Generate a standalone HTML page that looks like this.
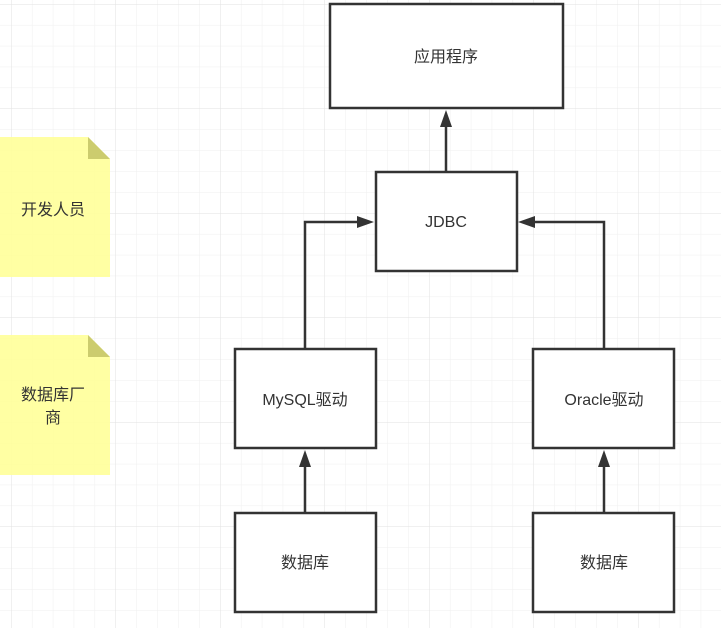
<!DOCTYPE html>
<html><head><meta charset="utf-8"><style>
body{margin:0;width:721px;height:628px;overflow:hidden;background:#fff;font-family:"Liberation Sans","Noto Sans CJK SC",sans-serif;}
</style></head><body>
<svg width="721" height="628" xmlns="http://www.w3.org/2000/svg" style="position:absolute;left:0;top:0">
<defs>
<pattern id="g" x="11" y="4" width="20.9" height="20.9" patternUnits="userSpaceOnUse">
<path d="M0 0H20.9M0 0V20.9" stroke="#efefef" stroke-width="1" fill="none"/>
</pattern>
<pattern id="G" x="11" y="4" width="104.5" height="104.5" patternUnits="userSpaceOnUse">
<path d="M0 0H104.5M0 0V104.5" stroke="#e2e2e2" stroke-width="1" fill="none"/>
</pattern>
</defs>
<rect width="721" height="628" fill="url(#g)"/>
<rect width="721" height="628" fill="url(#G)"/>
<g font-size="16" fill="#333" text-anchor="middle" font-family="Liberation Sans, Noto Sans CJK SC, sans-serif">
<path d="M0 137H88L110 159V277H0Z" fill="#ffff99" opacity="0.9"/>
<path d="M88 137L110 159H88Z" fill="#cccc6e"/>
<text x="53" y="215">开发人员</text>
<path d="M0 335H88L110 357V475H0Z" fill="#ffff99" opacity="0.9"/>
<path d="M88 335L110 357H88Z" fill="#cccc6e"/>
<text x="53" y="400">数据库厂</text>
<text x="53" y="423">商</text>
<g fill="#fff" stroke="#333" stroke-width="2.5">
<rect x="330" y="4" width="233" height="104"/>
<rect x="376" y="172" width="141" height="99"/>
<rect x="235" y="349" width="141" height="99"/>
<rect x="533" y="349" width="141" height="99"/>
<rect x="235" y="513" width="141" height="99"/>
<rect x="533" y="513" width="141" height="99"/>
</g>
<text x="446" y="62">应用程序</text>
<text x="446" y="227">JDBC</text>
<text x="305" y="405">MySQL驱动</text>
<text x="604" y="405">Oracle驱动</text>
<text x="305" y="568">数据库</text>
<text x="604" y="568">数据库</text>
<g stroke="#333" stroke-width="2.5" fill="none">
<path d="M446 172V124"/>
<path d="M305 349V222H359"/>
<path d="M604 349V222H533"/>
<path d="M305 513V464"/>
<path d="M604 513V464"/>
</g>
<g fill="#333">
<path d="M446 110L440 127H452Z"/>
<path d="M374 222L357 216V228Z"/>
<path d="M518 222L535 216V228Z"/>
<path d="M305 450L299 467H311Z"/>
<path d="M604 450L598 467H610Z"/>
</g>
</g>
</svg>
</body></html>
